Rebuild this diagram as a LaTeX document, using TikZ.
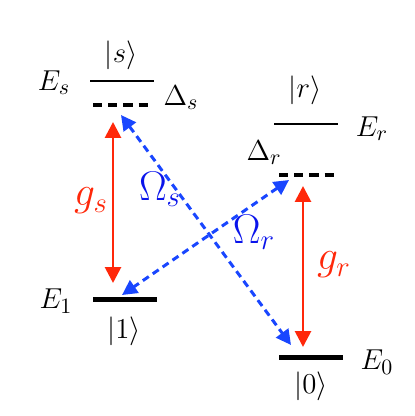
\documentclass[tikz,border=0pt]{standalone}
\usetikzlibrary{arrows.meta}
\definecolor{lvred}{RGB}{255,40,10}
\definecolor{lvblue}{RGB}{25,70,255}
\definecolor{lbblue}{RGB}{10,20,235}
\begin{document}
\begin{tikzpicture}[x=0.5pt,y=-0.5pt,
  thinlevel/.style={line width=1.2pt},
  thicklevel/.style={line width=2.5pt},
  virtlevel/.style={line width=2pt,dash pattern=on 4.6pt off 3pt},
  coupling/.style={lvred,line width=1.4pt,{Triangle[length=8pt,width=8pt]}-{Triangle[length=8pt,width=8pt]}},
  laser/.style={lvblue,line width=1.5pt,dash pattern=on 3.6pt off 2.4pt,{Triangle[length=7.5pt,width=7.5pt]}-{Triangle[length=7.5pt,width=7.5pt]}},
  lbl/.style={inner sep=0pt,font=\fontsize{15.5}{18}\selectfont},
  biglbl/.style={inner sep=0pt,font=\fontsize{20}{24}\selectfont}]
\useasboundingbox (0,0) rectangle (415,416);
% levels
\coordinate (sL) at (90,81);  \coordinate (sR) at (154,81);
\coordinate (sdL) at (93,105); \coordinate (sdR) at (150,105);
\coordinate (rL) at (274,124); \coordinate (rR) at (338,124);
\coordinate (rdL) at (279,175); \coordinate (rdR) at (336,175);
\coordinate (oneL) at (93,299); \coordinate (oneR) at (157,299);
\coordinate (zeroL) at (279,357); \coordinate (zeroR) at (343,357);
\draw[thinlevel] (sL) -- (sR);
\draw[virtlevel] (sdL) -- (sdR);
\draw[thinlevel] (rL) -- (rR);
\draw[virtlevel] (rdL) -- (rdR);
\draw[thicklevel] (oneL) -- (oneR);
\draw[thicklevel] (zeroL) -- (zeroR);
% labels
\node[lbl] (ks) at (121,55) {$|s\rangle$};
\node[lbl] (Es) at (54,83) {$E_s$};
\node[lbl] (Ds) at (181,98) {$\Delta_s$};
\node[lbl] (kr) at (305,90) {$|r\rangle$};
\node[lbl] (Er) at (372,129) {$E_r$};
\node[lbl] (Dr) at (264,153) {$\Delta_r$};
\node[lbl] (E1) at (56,301) {$E_1$};
\node[lbl] (k1) at (124,331) {$|1\rangle$};
\node[lbl] (E0) at (377,362) {$E_0$};
\node[lbl] (k0) at (311,386) {$|0\rangle$};
% arrows
\coordinate (gsT) at (113,122); \coordinate (gsB) at (113,283);
\coordinate (grT) at (303,186); \coordinate (grB) at (303,347);
\coordinate (OsT) at (121,115); \coordinate (OsB) at (291,345);
\coordinate (OrT) at (289,180); \coordinate (OrB) at (122,295);
\draw[coupling] (gsT) -- (gsB);
\draw[coupling] (grT) -- (grB);
\draw[laser] (OsT) -- (OsB);
\draw[laser] (OrT) -- (OrB);
\node[biglbl,text=lvred] (gs) at (91,201) {$g_s$};
\node[biglbl,text=lvred] (gr) at (334,265) {$g_r$};
\node[biglbl,text=lbblue] (Os) at (160,189) {$\Omega_s$};
\node[biglbl,text=lbblue] (Or) at (254,232) {$\Omega_r$};
\end{tikzpicture}
\end{document}
